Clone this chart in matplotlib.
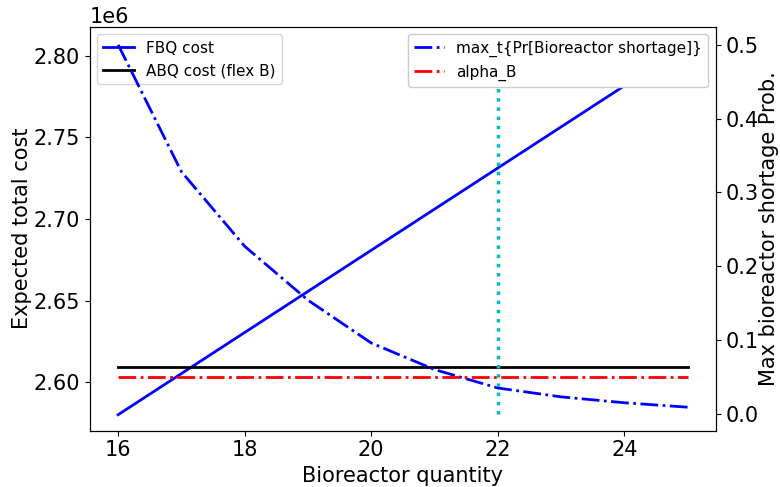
import numpy as np
import matplotlib
matplotlib.use("Agg")
import matplotlib.pyplot as plt

# bioreactor quantities
qty = [16, 17, 18, 19, 20, 21, 22, 23, 24, 25]

# expected total cost (fixed quantity) and adaptive cost
fbq_cost = [2.580e6, 2.6052e6, 2.6304e6, 2.6556e6, 2.6808e6, 2.7060e6,
            2.7312e6, 2.7564e6, 2.7816e6, 2.8068e6]
abq_cost = 2.609e6

# max shortage probability per quantity
max_short = [0.50, 0.328, 0.227, 0.154, 0.096, 0.060, 0.035, 0.023, 0.015, 0.009]
alpha_b = 0.05
chosen_q = 22

plt.rcParams['font.size'] = 15

fig, ax1 = plt.subplots(figsize=(7.8, 4.87), dpi=100)
fig.subplots_adjust(left=0.115, right=0.918, bottom=0.116, top=0.945)

ax1.plot(qty, fbq_cost, color='b', lw=2, label='FBQ cost')
ax1.plot([qty[0], qty[-1]], [abq_cost, abq_cost], color='k', lw=2, label='ABQ cost (flex B)')
ax1.set_ylim(2.5703e6, 2.8178e6)
ax1.set_xlabel('Bioreactor quantity')
ax1.set_ylabel('Expected total cost', labelpad=1)
ax1.legend(loc='upper left', fontsize=11)

ax2 = ax1.twinx()
ax2.plot(qty, max_short, color='b', ls='-.', lw=2, label='max_t{Pr[Bioreactor shortage]}')
ax2.plot([qty[0], qty[-1]], [alpha_b, alpha_b], color='r', ls='-.', lw=2, label='alpha_B')
ax2.vlines(chosen_q, 0, 0.5, colors='c', linestyles=':', lw=2.5)
ax2.set_ylim(-0.0226, 0.5244)
ax2.set_ylabel('Max bioreactor shortage Prob.', labelpad=0)
ax2.legend(loc='upper right', fontsize=11, framealpha=1)

ax1.set_xlim(15.55, 25.45)

plt.savefig('out.png')
